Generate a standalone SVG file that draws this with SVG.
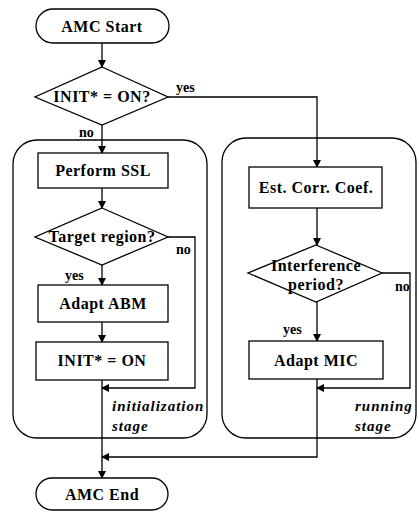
<svg xmlns="http://www.w3.org/2000/svg" width="419" height="524" viewBox="0 0 419 524">
<style>
.s{fill:none;stroke:#000;stroke-width:1.3}
.n{fill:#fff;stroke:#000;stroke-width:1.3}
.t{font-family:"Liberation Serif","Times New Roman",serif;font-size:16px;font-weight:bold;fill:#000;text-anchor:middle;letter-spacing:0.5px}
.l{font-family:"Liberation Serif","Times New Roman",serif;font-size:14px;font-weight:bold;fill:#000}
.i{font-family:"Liberation Serif","Times New Roman",serif;font-size:15px;font-weight:bold;font-style:italic;fill:#000;letter-spacing:1px}
.c{fill:none;stroke:#000;stroke-width:1.3;marker-end:url(#a)}
</style>
<defs>
<marker id="a" markerWidth="8" markerHeight="8" refX="7" refY="4" orient="auto" markerUnits="userSpaceOnUse">
<path d="M0,0 L8,4 L0,8 Z" fill="#000"/>
</marker>
</defs>
<rect id="init-stage" class="s" x="13" y="140" width="194" height="298" rx="24"/>
<rect id="run-stage" class="s" x="222" y="138" width="194" height="300" rx="24"/>
<g id="connectors">
<path class="c" d="M102,43 V67"/>
<path class="c" d="M102,125 V153"/>
<path class="c" d="M168,97 H317 V167"/>
<path class="c" d="M102,188 V208"/>
<path class="c" d="M102,265 V285"/>
<path class="c" d="M102,322 V342"/>
<path class="c" d="M168,237 H195 V388 H102"/>
<path class="c" d="M317,208 V245"/>
<path class="c" d="M317,302 V341"/>
<path class="c" d="M382,273 H410 V388 H317"/>
<path class="c" d="M317,379 V457 H102"/>
<path class="c" d="M102,380 V478"/>
</g>
<g id="amc-start"><rect class="n" x="36" y="9" width="133" height="34" rx="17"/><text class="t" x="102" y="32">AMC Start</text></g>
<g id="init-check"><polygon class="n" points="102,67 168,97 102,125 35,97"/><text class="t" x="102" y="102">INIT* = ON?</text></g>
<text class="l" x="176" y="92">yes</text>
<text class="l" x="79" y="137">no</text>
<g id="perform-ssl"><rect class="n" x="38" y="153" width="130" height="35"/><text class="t" x="103" y="176">Perform SSL</text></g>
<g id="target-region"><polygon class="n" points="102,208 168,237 102,265 35,237"/><text class="t" x="102" y="242">Target region?</text></g>
<text class="l" x="176" y="254">no</text>
<text class="l" x="65" y="280">yes</text>
<g id="adapt-abm"><rect class="n" x="38" y="285" width="130" height="37"/><text class="t" x="103" y="309">Adapt ABM</text></g>
<g id="init-on"><rect class="n" x="36" y="342" width="132" height="38"/><text class="t" x="102" y="366">INIT* = ON</text></g>
<text class="i" x="112" y="411">initialization</text>
<text class="i" x="112" y="431">stage</text>
<g id="est-corr"><rect class="n" x="249" y="167" width="133" height="41"/><text class="t" x="316" y="193">Est. Corr. Coef.</text></g>
<g id="interference"><polygon class="n" points="316,245 382,273 316,302 248,273"/><text class="t" x="316" y="271">Interference</text><text class="t" x="316" y="290">period?</text></g>
<text class="l" x="395" y="291">no</text>
<text class="l" x="283" y="334">yes</text>
<g id="adapt-mic"><rect class="n" x="249" y="341" width="134" height="38"/><text class="t" x="316" y="366">Adapt MIC</text></g>
<text class="i" x="355" y="411">running</text>
<text class="i" x="355" y="431">stage</text>
<g id="amc-end"><rect class="n" x="36" y="478" width="132" height="32" rx="16"/><text class="t" x="102" y="500">AMC End</text></g>
</svg>
